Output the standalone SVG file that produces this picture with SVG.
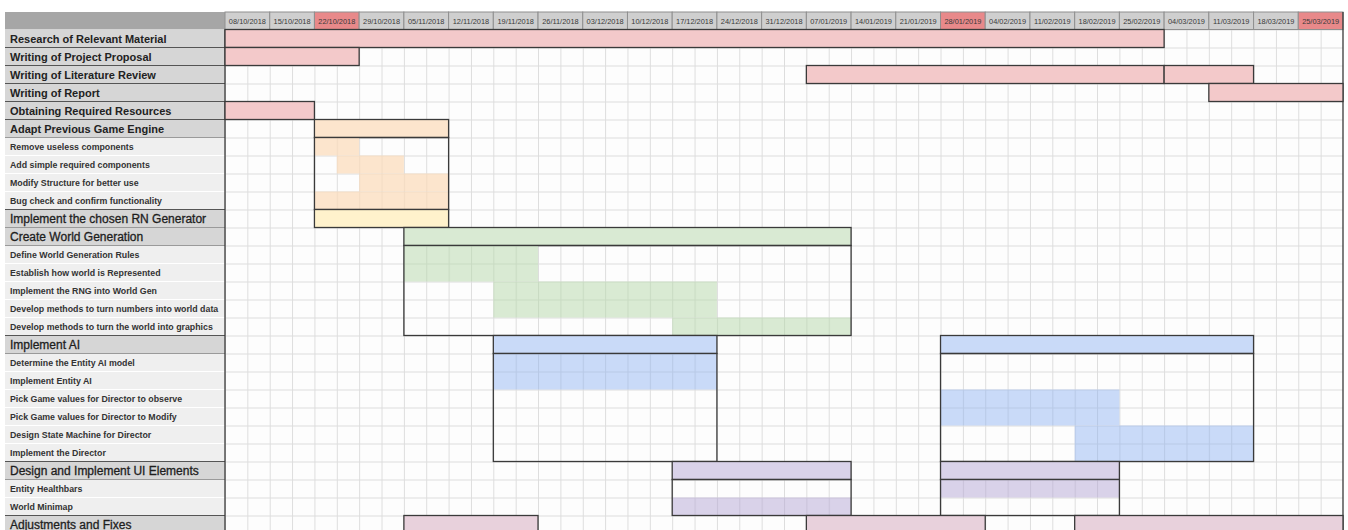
<svg xmlns="http://www.w3.org/2000/svg" width="1348" height="530" viewBox="0 0 1348 530">
<style>
.date{font-family:"Liberation Sans",Arial,sans-serif;font-size:7.4px;fill:#3a3a3a;text-anchor:middle}
.mb{font-family:"Liberation Sans",Arial,sans-serif;font-size:11px;font-weight:bold;fill:#222}
.mr{font-family:"Liberation Sans",Arial,sans-serif;font-size:12px;fill:#1e1e1e;stroke:#1e1e1e;stroke-width:0.3}
.sb{font-family:"Liberation Sans",Arial,sans-serif;font-size:8.8px;font-weight:bold;fill:#333}
.lm{fill:#d6d6d6}
.ls{fill:#efefef}
.bar{stroke:#3a3a3a;stroke-width:1.3}
.box{fill:none;stroke:#3a3a3a;stroke-width:1.3}
.pink{fill:#f3c9ca}
.peach{fill:#fce5cd}
.yellow{fill:#fff2cc}
.green{fill:#d9ead3}
.blue{fill:#c9daf8}
.purple{fill:#d9d2e9}
.mag{fill:#e8d1dc}
</style>
<defs>
<pattern id="grid" x="225" y="29.5" width="22.36" height="18" patternUnits="userSpaceOnUse">
<path d="M0.5 0V18M0 0.5H22.36" stroke="#dddddd" stroke-width="1" fill="none"/>
</pattern>
<pattern id="gGreen" x="225" y="29.5" width="22.36" height="18" patternUnits="userSpaceOnUse">
<rect width="22.36" height="18" fill="#d9ead3"/>
<path d="M0.5 0V18M0 0.5H22.36" stroke="#c9dbc3" stroke-width="1" fill="none"/>
</pattern>
<pattern id="gBlue" x="225" y="29.5" width="22.36" height="18" patternUnits="userSpaceOnUse">
<rect width="22.36" height="18" fill="#c9daf8"/>
<path d="M0.5 0V18M0 0.5H22.36" stroke="#b8c9e6" stroke-width="1" fill="none"/>
</pattern>
<pattern id="gPurple" x="225" y="29.5" width="22.36" height="18" patternUnits="userSpaceOnUse">
<rect width="22.36" height="18" fill="#d9d2e9"/>
<path d="M0.5 0V18M0 0.5H22.36" stroke="#c9c2d9" stroke-width="1" fill="none"/>
</pattern>
<pattern id="gPeach" x="225" y="29.5" width="22.36" height="18" patternUnits="userSpaceOnUse">
<rect width="22.36" height="18" fill="#fce5cd"/>
<path d="M0.5 0V18M0 0.5H22.36" stroke="#f3dcc4" stroke-width="1" fill="none"/>
</pattern>
</defs>
<rect width="1348" height="530" fill="#ffffff"/>
<g id="grid-area">
<rect x="225" y="29.5" width="1118" height="501" fill="#fdfdfd"/>
<rect x="225" y="29.5" width="1118" height="501" fill="url(#grid)"/>
</g>
<g id="header">
<rect x="5" y="12" width="220" height="17.5" fill="#a6a6a6"/>
<g stroke="#8f8f8f" stroke-width="1">
<rect x="225" y="12" width="44.72" height="17.5" fill="#cfcfcf"/>
<rect x="269.72" y="12" width="44.72" height="17.5" fill="#cfcfcf"/>
<rect x="314.44" y="12" width="44.72" height="17.5" fill="#e8898a"/>
<rect x="359.16" y="12" width="44.72" height="17.5" fill="#cfcfcf"/>
<rect x="403.88" y="12" width="44.72" height="17.5" fill="#cfcfcf"/>
<rect x="448.6" y="12" width="44.72" height="17.5" fill="#cfcfcf"/>
<rect x="493.32" y="12" width="44.72" height="17.5" fill="#cfcfcf"/>
<rect x="538.04" y="12" width="44.72" height="17.5" fill="#cfcfcf"/>
<rect x="582.76" y="12" width="44.72" height="17.5" fill="#cfcfcf"/>
<rect x="627.48" y="12" width="44.72" height="17.5" fill="#cfcfcf"/>
<rect x="672.2" y="12" width="44.72" height="17.5" fill="#cfcfcf"/>
<rect x="716.92" y="12" width="44.72" height="17.5" fill="#cfcfcf"/>
<rect x="761.64" y="12" width="44.72" height="17.5" fill="#cfcfcf"/>
<rect x="806.36" y="12" width="44.72" height="17.5" fill="#cfcfcf"/>
<rect x="851.08" y="12" width="44.72" height="17.5" fill="#cfcfcf"/>
<rect x="895.8" y="12" width="44.72" height="17.5" fill="#cfcfcf"/>
<rect x="940.52" y="12" width="44.72" height="17.5" fill="#e8898a"/>
<rect x="985.24" y="12" width="44.72" height="17.5" fill="#cfcfcf"/>
<rect x="1029.96" y="12" width="44.72" height="17.5" fill="#cfcfcf"/>
<rect x="1074.68" y="12" width="44.72" height="17.5" fill="#cfcfcf"/>
<rect x="1119.4" y="12" width="44.72" height="17.5" fill="#cfcfcf"/>
<rect x="1164.12" y="12" width="44.72" height="17.5" fill="#cfcfcf"/>
<rect x="1208.84" y="12" width="44.72" height="17.5" fill="#cfcfcf"/>
<rect x="1253.56" y="12" width="44.72" height="17.5" fill="#cfcfcf"/>
<rect x="1298.28" y="12" width="44.72" height="17.5" fill="#e8898a"/>
</g>
<text class="date" x="247.36" y="23.6">08/10/2018</text>
<text class="date" x="292.08" y="23.6">15/10/2018</text>
<text class="date" x="336.8" y="23.6">22/10/2018</text>
<text class="date" x="381.52" y="23.6">29/10/2018</text>
<text class="date" x="426.24" y="23.6">05/11/2018</text>
<text class="date" x="470.96" y="23.6">12/11/2018</text>
<text class="date" x="515.68" y="23.6">19/11/2018</text>
<text class="date" x="560.4" y="23.6">26/11/2018</text>
<text class="date" x="605.12" y="23.6">03/12/2018</text>
<text class="date" x="649.84" y="23.6">10/12/2018</text>
<text class="date" x="694.56" y="23.6">17/12/2018</text>
<text class="date" x="739.28" y="23.6">24/12/2018</text>
<text class="date" x="784" y="23.6">31/12/2018</text>
<text class="date" x="828.72" y="23.6">07/01/2019</text>
<text class="date" x="873.44" y="23.6">14/01/2019</text>
<text class="date" x="918.16" y="23.6">21/01/2019</text>
<text class="date" x="962.88" y="23.6">28/01/2019</text>
<text class="date" x="1007.6" y="23.6">04/02/2019</text>
<text class="date" x="1052.32" y="23.6">11/02/2019</text>
<text class="date" x="1097.04" y="23.6">18/02/2019</text>
<text class="date" x="1141.76" y="23.6">25/02/2019</text>
<text class="date" x="1186.48" y="23.6">04/03/2019</text>
<text class="date" x="1231.2" y="23.6">11/03/2019</text>
<text class="date" x="1275.92" y="23.6">18/03/2019</text>
<text class="date" x="1320.64" y="23.6">25/03/2019</text>
</g>
<g id="label-column">
<rect class="lm" x="5" y="29.5" width="220" height="108"/>
<rect class="ls" x="5" y="137.5" width="220" height="72"/>
<rect class="lm" x="5" y="209.5" width="220" height="36"/>
<rect class="ls" x="5" y="245.5" width="220" height="90"/>
<rect class="lm" x="5" y="335.5" width="220" height="18"/>
<rect class="ls" x="5" y="353.5" width="220" height="108"/>
<rect class="lm" x="5" y="461.5" width="220" height="18"/>
<rect class="ls" x="5" y="479.5" width="220" height="36"/>
<rect class="lm" x="5" y="515.5" width="220" height="18"/>
<g stroke="#ffffff" stroke-width="1">
<path d="M5 155.5H225M5 173.5H225M5 191.5H225M5 263.5H225M5 281.5H225M5 299.5H225M5 317.5H225M5 371.5H225M5 389.5H225M5 407.5H225M5 425.5H225M5 443.5H225M5 497.5H225"/>
</g>
<g stroke="#9a9a9a" stroke-width="1">
<path d="M5 137.5H225M5 227.5H225M5 245.5H225M5 353.5H225M5 479.5H225"/>
</g>
<g stroke="#555" stroke-width="1.2">
<path d="M5 47.5H225M5 65.5H225M5 83.5H225M5 101.5H225M5 119.5H225M5 209.5H225M5 335.5H225M5 461.5H225M5 515.5H225"/>
</g>
<path d="M225 29.5V530" stroke="#3a3a3a" stroke-width="1.3"/>
<path d="M1343 12V530" stroke="#3a3a3a" stroke-width="1.3"/>
</g>
<g id="task-research">
<text class="mb" x="10" y="42.5">Research of Relevant Material</text>
<rect class="bar pink" x="225" y="29.5" width="939.12" height="18"/>
</g>
<g id="task-proposal">
<text class="mb" x="10" y="60.5">Writing of Project Proposal</text>
<rect class="bar pink" x="225" y="47.5" width="134.16" height="18"/>
</g>
<g id="task-literature">
<text class="mb" x="10" y="78.5">Writing of Literature Review</text>
<rect class="bar pink" x="806.36" y="65.5" width="357.76" height="18"/>
<rect class="bar pink" x="1164.12" y="65.5" width="89.44" height="18"/>
</g>
<g id="task-report">
<text class="mb" x="10" y="96.5">Writing of Report</text>
<rect class="bar pink" x="1208.84" y="83.5" width="134.16" height="18"/>
</g>
<g id="task-resources">
<text class="mb" x="10" y="114.5">Obtaining Required Resources</text>
<rect class="bar pink" x="225" y="101.5" width="89.44" height="18"/>
</g>
<g id="task-adapt">
<text class="mb" x="10" y="132.5">Adapt Previous Game Engine</text>
<text class="sb" x="10" y="149.5">Remove useless components</text>
<text class="sb" x="10" y="167.5">Add simple required components</text>
<text class="sb" x="10" y="185.5">Modify Structure for better use</text>
<text class="sb" x="10" y="203.5">Bug check and confirm functionality</text>
<rect class="bar peach" x="314.44" y="119.5" width="134.16" height="18"/>
<rect fill="url(#gPeach)" x="314.44" y="137.5" width="44.72" height="18"/>
<rect fill="url(#gPeach)" x="336.8" y="155.5" width="67.08" height="18"/>
<rect fill="url(#gPeach)" x="359.16" y="173.5" width="89.44" height="18"/>
<rect fill="url(#gPeach)" x="314.44" y="191.5" width="134.16" height="18"/>
<rect class="box" x="314.44" y="137.5" width="134.16" height="72"/>
</g>
<g id="task-rng">
<text class="mr" x="10" y="223">Implement the chosen RN Generator</text>
<rect class="bar yellow" x="314.44" y="209.5" width="134.16" height="18"/>
</g>
<g id="task-world">
<text class="mr" x="10" y="241">Create World Generation</text>
<text class="sb" x="10" y="257.5">Define World Generation Rules</text>
<text class="sb" x="10" y="275.5">Establish how world is Represented</text>
<text class="sb" x="10" y="293.5">Implement the RNG into World Gen</text>
<text class="sb" x="10" y="311.5">Develop methods to turn numbers into world data</text>
<text class="sb" x="10" y="329.5">Develop methods to turn the world into graphics</text>
<rect class="bar green" x="403.88" y="227.5" width="447.2" height="18"/>
<rect fill="url(#gGreen)" x="403.88" y="245.5" width="134.16" height="36"/>
<rect fill="url(#gGreen)" x="493.32" y="281.5" width="223.6" height="36"/>
<rect fill="url(#gGreen)" x="672.2" y="317.5" width="178.88" height="18"/>
<rect class="box" x="403.88" y="245.5" width="447.2" height="90"/>
</g>
<g id="task-ai">
<text class="mr" x="10" y="349">Implement AI</text>
<text class="sb" x="10" y="365.5">Determine the Entity AI model</text>
<text class="sb" x="10" y="383.5">Implement Entity AI</text>
<text class="sb" x="10" y="401.5">Pick Game values for Director to observe</text>
<text class="sb" x="10" y="419.5">Pick Game values for Director to Modify</text>
<text class="sb" x="10" y="437.5">Design State Machine for Director</text>
<text class="sb" x="10" y="455.5">Implement the Director</text>
<rect class="bar blue" x="493.32" y="335.5" width="223.6" height="18"/>
<rect fill="url(#gBlue)" x="493.32" y="353.5" width="223.6" height="36"/>
<rect class="box" x="493.32" y="353.5" width="223.6" height="108"/>
<rect class="bar blue" x="940.52" y="335.5" width="313.04" height="18"/>
<rect fill="url(#gBlue)" x="940.52" y="389.5" width="178.88" height="36"/>
<rect fill="url(#gBlue)" x="1074.68" y="425.5" width="178.88" height="36"/>
<rect class="box" x="940.52" y="353.5" width="313.04" height="108"/>
</g>
<g id="task-ui">
<text class="mr" x="10" y="475">Design and Implement UI Elements</text>
<text class="sb" x="10" y="491.5">Entity Healthbars</text>
<text class="sb" x="10" y="509.5">World Minimap</text>
<rect class="bar purple" x="672.2" y="461.5" width="178.88" height="18"/>
<rect fill="url(#gPurple)" x="672.2" y="497.5" width="178.88" height="18"/>
<rect class="box" x="672.2" y="479.5" width="178.88" height="36"/>
<rect class="bar purple" x="940.52" y="461.5" width="178.88" height="18"/>
<rect fill="url(#gPurple)" x="940.52" y="479.5" width="178.88" height="18"/>
<rect class="box" x="940.52" y="479.5" width="178.88" height="36"/>
</g>
<g id="task-adjustments">
<text class="mr" x="10" y="529">Adjustments and Fixes</text>
<rect class="bar mag" x="403.88" y="515.5" width="134.16" height="18"/>
<rect class="bar mag" x="806.36" y="515.5" width="178.88" height="18"/>
<rect class="bar mag" x="1074.68" y="515.5" width="268.32" height="18"/>
</g>
<g id="connectors"/>
</svg>
